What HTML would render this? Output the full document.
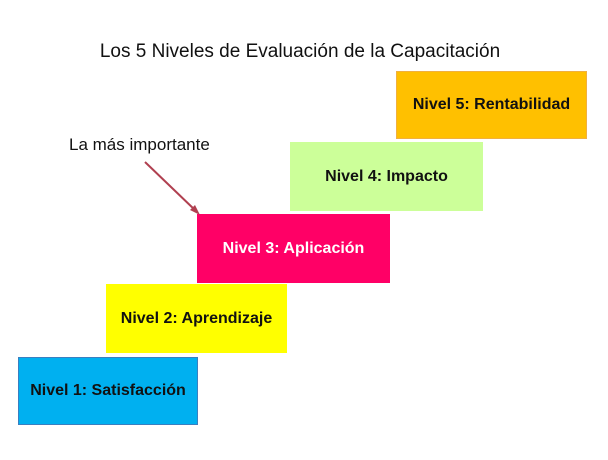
<!DOCTYPE html>
<html><head><meta charset="utf-8"><style>
body{margin:0;width:608px;height:460px;background:#fff;position:relative;overflow:hidden;font-family:"Liberation Sans",sans-serif}
.b{position:absolute;display:flex;align-items:center;justify-content:center;font-weight:bold;font-size:16px;color:#111;box-sizing:border-box}
.t{position:absolute;white-space:nowrap}
</style></head><body>
<div class="t" style="left:0;width:600px;text-align:center;top:41px;font-size:19px;color:#111">Los 5 Niveles de Evaluación de la Capacitación</div>
<div class="t" style="left:69px;top:135px;font-size:17px;color:#111">La más importante</div>
<div class="b" style="left:18px;top:357px;width:180px;height:68px;background:#00b0f0;border:1px solid #3a7fc0">Nivel 1: Satisfacción</div>
<div class="b" style="left:106px;top:284px;width:181px;height:69px;background:#ffff00">Nivel 2: Aprendizaje</div>
<div class="b" style="left:197px;top:214px;width:193px;height:69px;background:#ff0066;color:#fff">Nivel 3: Aplicación</div>
<div class="b" style="left:290px;top:142px;width:193px;height:69px;background:#ccff99">Nivel 4: Impacto</div>
<div class="b" style="left:396px;top:71px;width:191px;height:68px;background:#ffc000;border:1px solid #f0b040">Nivel 5: Rentabilidad</div>
<svg style="position:absolute;left:0;top:0" width="608" height="460">
<line x1="145" y1="162" x2="196" y2="211" stroke="#b04050" stroke-width="2"/>
<polygon points="200,215 190,210 195,205" fill="#b04050"/>
</svg>
</body></html>
